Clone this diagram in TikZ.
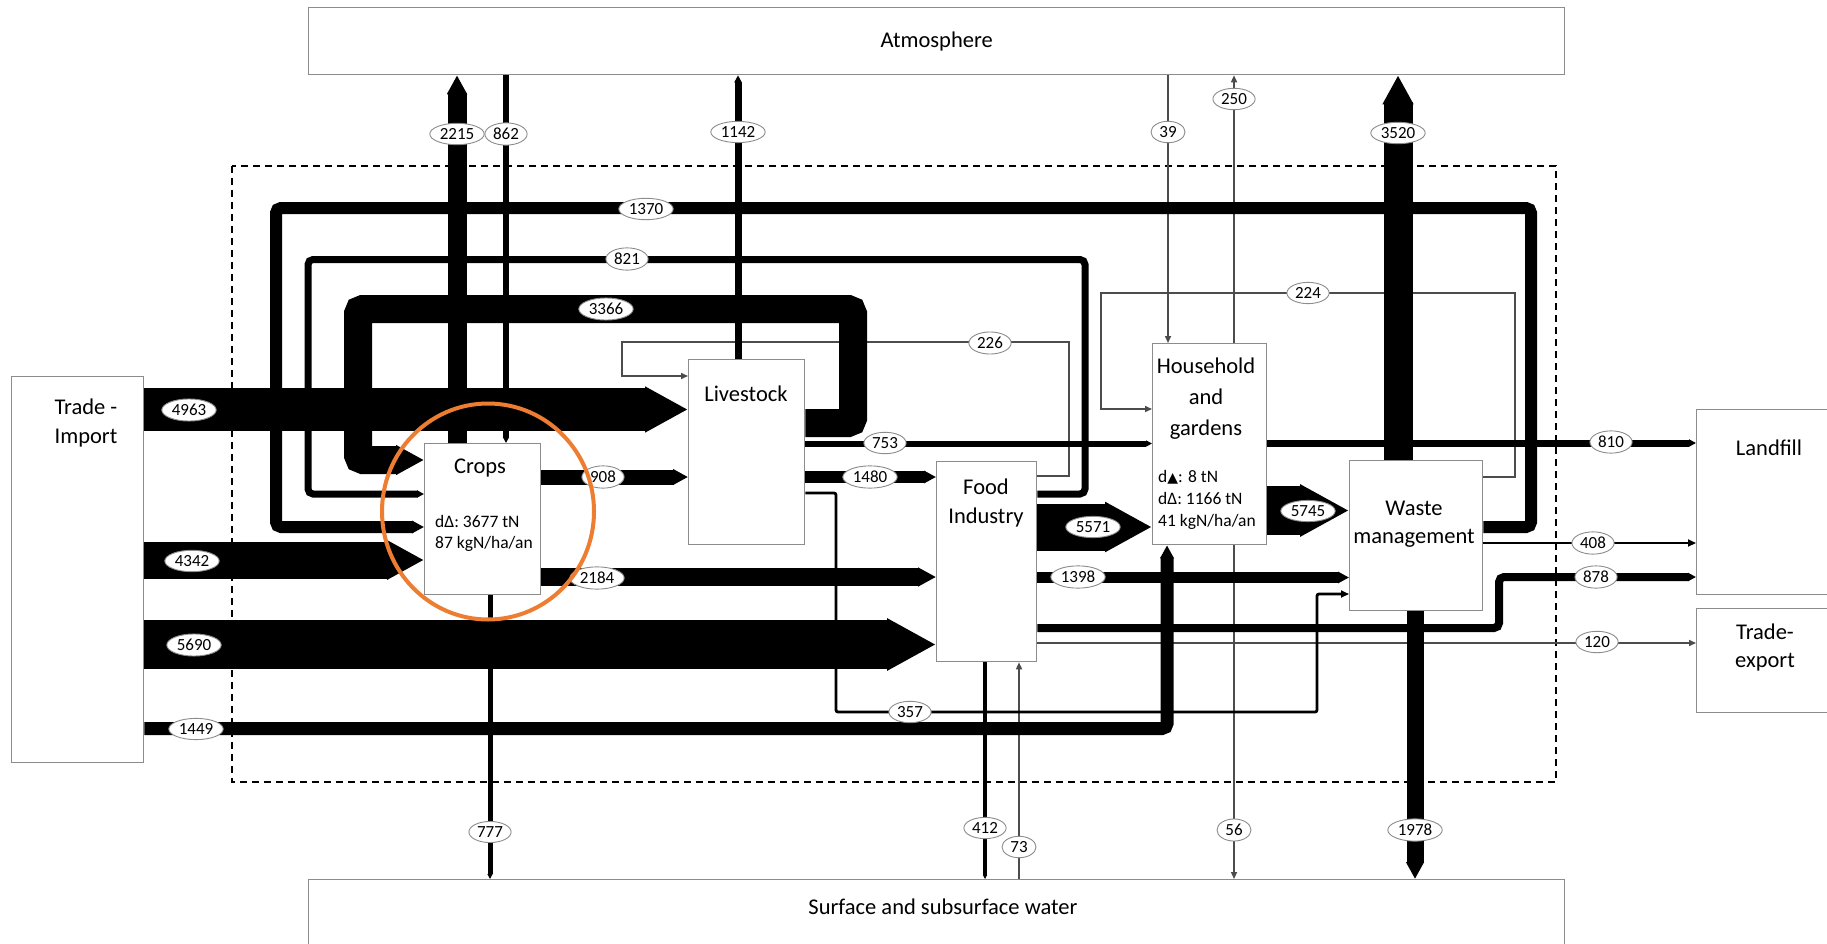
\documentclass[tikz,border=0pt]{standalone}
\usepackage{fontspec}
\setmainfont{Carlito}
\newfontfamily\symfont{DejaVu Sans}
\usetikzlibrary{arrows.meta,shapes.geometric}
\definecolor{boxgray}{RGB}{140,140,140}
\definecolor{ringorange}{RGB}{237,125,49}
\begin{document}
\begin{tikzpicture}[x=1pt,y=-1pt,
    box/.style={draw=boxgray,line width=1.3pt,fill=white,anchor=north west,inner sep=0pt},
    boxname/.style={font=\fontsize{22.5}{29}\selectfont,align=center,inner sep=0pt},
    stocktext/.style={font=\fontsize{17.5}{21.5}\selectfont,align=left,anchor=west,inner sep=0pt},
    flow/.style={draw=black,rounded corners=5pt,-{Triangle[length=0pt 1 0,width=0pt 1 0]}},
    medflow/.style={draw=black,line width=2.8pt,rounded corners=2pt,-{Triangle[length=8pt,width=7pt]}},
    thinflow/.style={draw=black!70,line width=1.5pt,-{Triangle[length=7pt,width=6pt]}},
    flowval/.style={ellipse,draw=boxgray,fill=white,line width=0.9pt,inner sep=2pt,minimum width=34pt,font=\fontsize{17}{17}\selectfont}]
\useasboundingbox (0,0) rectangle (1827,944);
\clip (0,0) rectangle (1827,944);
\fill[white] (0,0) rectangle (1827,944);

\node[box,boxname,minimum width=1256pt,minimum height=67pt] (atmo) at (308,7) {Atmosphere};
\node[box,minimum width=1256pt,minimum height=90pt] (water) at (308,879) {};
\node[boxname] (watername) at (943,907) {Surface and subsurface water};
\node[box,minimum width=132pt,minimum height=386pt] (imp) at (11,376) {};
\node[boxname] (impname) at (86,423) {Trade -\\Import};
\node[box,minimum width=116pt,minimum height=151pt] (crops) at (424,443) {};
\node[boxname] (cropsname) at (480,468) {Crops};
\node[stocktext] (cropsstock) at (435,533.5) {dΔ: 3677 tN\\87 kgN/ha/an};
\node[box,minimum width=116pt,minimum height=185pt] (live) at (688,359) {};
\node[boxname] (livename) at (746,394) {Livestock};
\node[box,minimum width=100pt,minimum height=200pt] (food) at (936,461) {};
\node[boxname] (foodname) at (986,502.5) {Food\\Industry};
\node[box,minimum width=114pt,minimum height=201pt] (house) at (1152,343) {};
\node[boxname,font=\fontsize{22.5}{31}\selectfont] (housename) at (1206,399) {Household\\and\\gardens};
\node[stocktext,font=\fontsize{17.5}{22}\selectfont] (housestock) at (1158,500) {d{\symfont\fontsize{14}{14}\selectfont ▲}: 8 tN\\dΔ: 1166 tN\\41 kgN/ha/an};
\node[box,minimum width=133pt,minimum height=150pt] (waste) at (1349,460) {};
\node[boxname,font=\fontsize{22.5}{28}\selectfont] (wastename) at (1414,524) {Waste\\management};
\node[box,minimum width=160pt,minimum height=185pt] (landfill) at (1696,409) {};
\node[boxname] (landfillname) at (1769,448) {Landfill};
\node[box,minimum width=160pt,minimum height=104pt] (export) at (1696,608) {};
\node[boxname,font=\fontsize{22.5}{28}\selectfont] (exportname) at (1765,647) {Trade-\\export};

\draw[line width=1.5pt,dash pattern=on 7pt off 5pt] (232,166) rectangle (1556,782);

\draw[thinflow] (atmo.south -| 1168,0) -- (house.north -| 1168,0);
\draw[thinflow] (house.north -| 1234,0) -- (atmo.south -| 1234,0);
\draw[thinflow] (house.south -| 1234,0) -- (water.north -| 1234,0);
\draw[thinflow] (water.north -| 1019,0) -- (food.south -| 1019,0);
\draw[thinflow] (food.east |- 0,643) -- (export.west |- 0,643);
\draw[thinflow] (food.east |- 0,476) -| (1069,342) -| (622,376) -- (live.west |- 0,376);
\draw[thinflow] (waste.east |- 0,477) -| (1515,293) -| (1101,409) -- (house.west |- 0,409);
\draw[medflow] (live.east |- 0,493) -| (836,712) -| (1317,594) -- (waste.west |- 0,594);
\draw[medflow] (waste.east |- 0,543) -- (landfill.west |- 0,543);

\draw[flow,line width=19pt] (crops.north -| 457,0) -- (atmo.south -| 457,0);
\draw[flow,line width=6pt] (atmo.south -| 506,0) -- (crops.north -| 506,0);
\draw[flow,line width=7pt] (live.north -| 738,0) -- (atmo.south -| 738,0);
\draw[flow,line width=29pt] (waste.north -| 1398,0) -- (atmo.south -| 1398,0);
\draw[flow,line width=12pt] (waste.east |- 0,527) -| (1531,208) -| (276,527) -- (crops.west |- 0,527);
\draw[flow,line width=7pt] (food.east |- 0,494) -| (1085,259.5) -| (308,494) -- (crops.west |- 0,494);
\draw[flow,line width=28pt] (live.east |- 0,423) -| (853,309) -| (358,460) -- (crops.west |- 0,460);
\draw[flow,line width=43pt] (imp.east |- 0,409.5) -- (live.west |- 0,409.5);
\draw[flow,line width=37pt] (imp.east |- 0,560) -- (crops.west |- 0,560);
\draw[flow,line width=49pt] (imp.east |- 0,644.5) -- (food.west |- 0,644.5);
\draw[flow,line width=13pt] (imp.east |- 0,728.5) -| (house.south -| 1167,0);
\draw[flow,line width=15pt] (crops.east |- 0,477) -- (live.west |- 0,477);
\draw[flow,line width=18pt] (crops.east |- 0,577) -- (food.west |- 0,577);
\draw[flow,line width=5pt] (crops.south -| 490,0) -- (water.north -| 490,0);
\draw[flow,line width=6pt] (live.east |- 0,443.5) -- (house.west |- 0,443.5);
\draw[flow,line width=12pt] (live.east |- 0,477) -- (food.west |- 0,477);
\draw[flow,line width=47pt] (food.east |- 0,527) -- (house.west |- 0,527);
\draw[flow,line width=11pt] (food.east |- 0,577.5) -- (waste.west |- 0,577.5);
\draw[flow,line width=8pt] (food.east |- 0,628) -| (1499,577) -- (landfill.west |- 0,577);
\draw[flow,line width=4pt] (food.south -| 985,0) -- (water.north -| 985,0);
\draw[flow,line width=49pt] (house.east |- 0,510.5) -- (waste.west |- 0,510.5);
\draw[flow,line width=7pt] (house.east |- 0,443) -- (landfill.west |- 0,443);
\draw[flow,line width=17pt] (waste.south -| 1415,0) -- (water.north -| 1415,0);

\node[flowval] (l2215) at (457,134) {2215};
\node[flowval] (l862) at (506,134) {862};
\node[flowval] (l1142) at (738,132) {1142};
\node[flowval] (l39) at (1168,132) {39};
\node[flowval] (l250) at (1234,99) {250};
\node[flowval] (l3520) at (1398,133) {3520};
\node[flowval] (l1370) at (646,209) {1370};
\node[flowval] (l821) at (627,259) {821};
\node[flowval] (l3366) at (606,309) {3366};
\node[flowval] (l226) at (990,343) {226};
\node[flowval] (l224) at (1308,293) {224};
\node[flowval] (l4963) at (189,410) {4963};
\node[flowval] (l753) at (885,443) {753};
\node[flowval] (l810) at (1611,442) {810};
\node[flowval] (l908) at (603,477) {908};
\node[flowval] (l1480) at (870,477) {1480};
\node[flowval] (l5571) at (1093,527) {5571};
\node[flowval] (l5745) at (1308,511) {5745};
\node[flowval] (l4342) at (192,561) {4342};
\node[flowval] (l2184) at (597,578) {2184};
\node[flowval] (l1398) at (1078,577) {1398};
\node[flowval] (l408) at (1593,543) {408};
\node[flowval] (l878) at (1596,577) {878};
\node[flowval] (l120) at (1597,642) {120};
\node[flowval] (l5690) at (194,645) {5690};
\node[flowval] (l357) at (910,712) {357};
\node[flowval] (l1449) at (196,729) {1449};
\node[flowval] (l777) at (490,832) {777};
\node[flowval] (l412) at (985,828) {412};
\node[flowval] (l73) at (1019,847) {73};
\node[flowval] (l56) at (1234,830) {56};
\node[flowval] (l1978) at (1415,830) {1978};

\draw[ringorange,line width=4pt] (488,511.5) circle [x radius=106pt,y radius=108pt];
\end{tikzpicture}
\end{document}
